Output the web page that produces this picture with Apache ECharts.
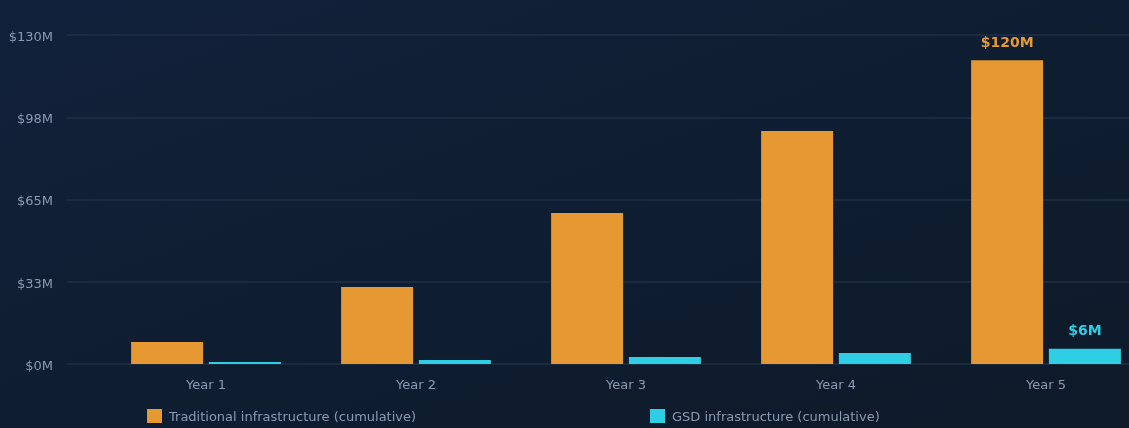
<!DOCTYPE html>
<html>
<head>
<meta charset="utf-8">
<script src="https://cdn.jsdelivr.net/npm/echarts@6/dist/echarts.min.js"></script>
<style>
  html, body { margin: 0; padding: 0; width: 100%; height: 100%; overflow: hidden; }
  body { background: linear-gradient(160deg, #12213b 0%, #0f1d31 55%, #0c1a29 100%); }
  /* the plot runs slightly past the right edge of the page */
  #chart { width: 1151px; height: 428px; }
</style>
</head>
<body>
<div id="chart"></div>
<script>
// Cumulative infrastructure cost, $M
const years = ['Year 1', 'Year 2', 'Year 3', 'Year 4', 'Year 5'];
const traditional = [8.7, 30.4, 59.7, 92.1, 120];
const gsd = [0.8, 1.6, 2.8, 4.3, 6];
const seriesNames = ['Traditional infrastructure (cumulative)', 'GSD infrastructure (cumulative)'];
const yMax = 130;
const yStep = 32.5;

const ORANGE = '#e69832';
const CYAN = '#2ecfe5';
const TEXT = '#8a9ab3';
const GRID = '#1f3045';
const FONT = 'DejaVu Sans';
const lastIdx = years.length - 1;

const money = v => '$' + Math.round(v) + 'M';

function endLabel(color) {
  return {
    show: true,
    position: 'top',
    distance: 10,
    color: color,
    fontFamily: FONT,
    fontSize: 14,
    fontWeight: 'bold',
    formatter: p => (p.dataIndex === lastIdx ? money(p.value) : '')
  };
}

function legendAt(name, left) {
  return {
    data: [name], left: left, top: 409, padding: 0,
    icon: 'rect', itemWidth: 15, itemHeight: 14,
    formatter: n => '{t|' + n + '}',
    textStyle: {
      color: TEXT, fontSize: 13, fontFamily: FONT,
      rich: { t: { color: TEXT, fontSize: 13, fontFamily: FONT, padding: [3, 0, 0, 2] } }
    }
  };
}

const chart = echarts.init(document.getElementById('chart'), null, { renderer: 'canvas' });
chart.setOption({
  backgroundColor: 'transparent',
  animation: false,
  textStyle: { fontFamily: FONT },
  grid: [
    // value scale + gridlines
    { left: 67, right: 22, top: 35, bottom: 64 },
    // category bands for the bars
    { left: 101, right: 0, top: 35, bottom: 64 }
  ],
  legend: [legendAt(seriesNames[0], 147), legendAt(seriesNames[1], 650)],
  xAxis: [
    { gridIndex: 0, type: 'category', data: years, show: false },
    {
      gridIndex: 1, type: 'category', data: years,
      axisLine: { show: false }, axisTick: { show: false },
      axisLabel: { color: TEXT, fontSize: 13, fontFamily: FONT, margin: 15 }
    }
  ],
  yAxis: [
    {
      gridIndex: 0, type: 'value', min: 0, max: yMax, interval: yStep,
      axisLine: { show: false }, axisTick: { show: false },
      splitLine: { lineStyle: { color: GRID, width: 1.5 } },
      axisLabel: {
        color: TEXT, fontSize: 13, fontFamily: FONT, margin: 14,
        formatter: v => '{v|' + money(v) + '}',
        rich: { v: { color: TEXT, fontSize: 13, fontFamily: FONT, padding: [5, 0, 0, 0] } }
      }
    },
    {
      gridIndex: 1, type: 'value', min: 0, max: yMax, interval: yStep,
      show: false, splitLine: { show: false }
    }
  ],
  series: [
    {
      name: seriesNames[0], type: 'bar', xAxisIndex: 1, yAxisIndex: 1,
      data: traditional, barWidth: 72, barGap: '8%',
      itemStyle: { color: ORANGE },
      label: endLabel(ORANGE)
    },
    {
      name: seriesNames[1], type: 'bar', xAxisIndex: 1, yAxisIndex: 1,
      data: gsd, barWidth: 72, barGap: '8%',
      itemStyle: { color: CYAN },
      label: endLabel(CYAN)
    }
  ]
});
</script>
</body>
</html>
